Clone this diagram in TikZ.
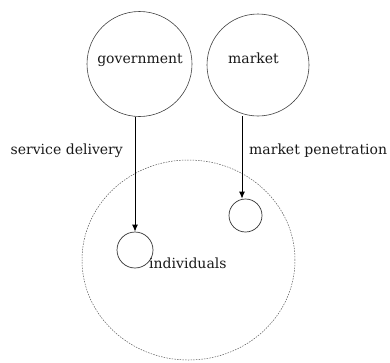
\documentclass[tikz,border=0pt]{standalone}
\usepackage{fontspec}
\setmainfont{DejaVu Serif}
\usetikzlibrary{shapes.geometric,arrows.meta}
\begin{document}
\begin{tikzpicture}[x=1pt,y=-1pt,
  bigcirc/.style={circle,draw=black!75,line width=0.6pt,inner sep=0pt},
  smallcirc/.style={circle,draw=black!80,line width=0.7pt,inner sep=0pt},
  lbl/.style={inner sep=0pt,font=\fontsize{14}{16}\selectfont,text=black!90},
  arr/.style={line width=1pt,-{Latex[length=7pt,width=6pt]}},
  popshape/.style={ellipse,draw=black!65,line width=0.5pt,dash pattern=on 1.5pt off 1.2pt,inner sep=0pt}]
\useasboundingbox (0,0) rectangle (390,362);
\node[bigcirc,minimum size=105pt] (gov) at (139.5,64) {};
\node[bigcirc,minimum size=102pt] (mkt) at (258,65) {};
\node[lbl,anchor=base] (govt) at (140,63) {government};
\node[lbl,anchor=base] (mktt) at (253.5,63) {market};
\node[popshape,minimum width=213pt,minimum height=200pt] (pop) at (188.5,260) {};
\node[smallcirc,minimum size=36pt] (ind) at (135,250) {};
\node[smallcirc,minimum size=33pt] (ind2) at (245.5,215.5) {};
\node[lbl,anchor=base east] (sd) at (123,154) {service delivery};
\node[lbl,anchor=base west] (mp) at (249,154) {market penetration};
\node[lbl,anchor=base west] (indt) at (149,268) {individuals};
\draw[arr] (ind.north |- gov.south) -- (ind.north);
\draw[arr] ([xshift=-3.5pt]ind2.north |- mkt.south) -- ([xshift=-3.5pt]ind2.north);
\end{tikzpicture}
\end{document}
